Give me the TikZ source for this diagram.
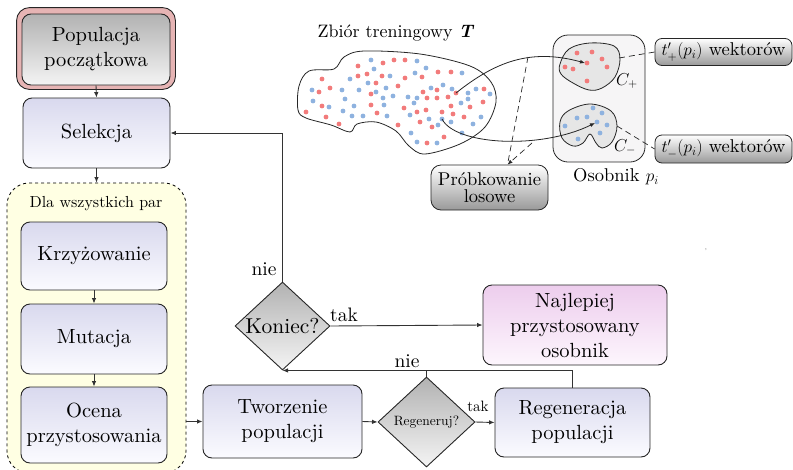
\documentclass[tikz,border=0pt]{standalone}
\usepackage{fontspec}
\setmainfont{lmroman10}[Extension=.otf, UprightFont=*-regular, BoldFont=*-bold,
  ItalicFont=*-italic, BoldItalicFont=*-bolditalic]
\usetikzlibrary{shapes.geometric,arrows.meta,backgrounds,calc}

\definecolor{pinkband}{HTML}{E6B4B4}
\definecolor{lavtop}{HTML}{D9D9EE}
\definecolor{lavbot}{HTML}{FBFBFF}
\definecolor{greytop}{HTML}{B2B2B2}
\definecolor{greybot}{HTML}{F4F4F4}
\definecolor{violtop}{HTML}{EDCDED}
\definecolor{violbot}{HTML}{FDF6FD}
\definecolor{groupfill}{HTML}{FFFFE3}
\definecolor{dotred}{HTML}{F27B7B}
\definecolor{dotblue}{HTML}{8EB2DF}
\definecolor{indfill}{HTML}{F6F5F6}
\definecolor{clusterfill}{HTML}{E6E6E6}
\definecolor{linegrey}{HTML}{333333}

\newcommand{\bigtxt}{\fontsize{20.5}{25}\selectfont}
\newcommand{\midtxt}{\fontsize{18.5}{21}\selectfont}
\newcommand{\smalltxt}{\fontsize{15}{17}\selectfont}

\begin{document}
\begin{tikzpicture}[x=1pt,y=-1pt,
  flow/.style={draw=black!85, line width=0.9pt, rounded corners=9pt,
    align=center, font=\bigtxt, inner sep=0pt},
  lavbox/.style={flow, top color=lavtop, bottom color=lavbot},
  greybox/.style={flow, top color=greytop, bottom color=greybot},
  violbox/.style={flow, top color=violtop, bottom color=violbot},
  decision/.style={shape=diamond, draw=black!85, line width=0.9pt,
    top color=greytop, bottom color=greybot, inner sep=0pt},
  groupbox/.style={draw=black, dashed, line width=0.8pt, fill=groupfill,
    rounded corners=22pt, inner sep=0pt},
  tagbox/.style={draw=black!85, line width=0.8pt, rounded corners=7pt,
    top color=white, bottom color=black!40, align=center, font=\midtxt,
    inner sep=0pt},
  conn/.style={draw=linegrey, line width=0.9pt,
    -{Latex[length=5.5pt,width=4.5pt]}},
  plainconn/.style={draw=linegrey, line width=0.9pt},
  lbl/.style={font=\midtxt, inner sep=0pt},
  outline/.style={draw=black!85, line width=0.8pt},
  guide/.style={draw=black!85, line width=0.7pt, dash pattern=on 6pt off 4pt},
]
\useasboundingbox (0,0) rectangle (793,469);

% ---------------- main loop of the algorithm ----------------
\node[greybox, minimum width=148pt, minimum height=71pt] (pop) at (96,49.5)
  {Populacja\\początkowa};
\begin{scope}[on background layer]
  \draw[draw=black!85, line width=0.9pt, fill=pinkband, rounded corners=13pt]
    ($(pop.south west)+(-5,4)$) rectangle ($(pop.north east)+(5,-6)$);
\end{scope}

\node[lavbox, minimum width=147pt, minimum height=70pt] (sel) at (96.5,133) {Selekcja};

\node[groupbox, minimum width=179pt, minimum height=290pt] (group) at (96.5,328) {};
\node[font=\fontsize{16}{18}\selectfont, inner sep=0pt] (grouptitle) at (96,204)
  {Dla wszystkich par};

\node[lavbox, minimum width=146pt, minimum height=68pt] (krz) at (94,256) {Krzyżowanie};
\node[lavbox, minimum width=146pt, minimum height=70pt] (mut) at (94,339) {Mutacja};
\node[lavbox, minimum width=146pt, minimum height=76pt] (oce) at (94,425)
  {Ocena\\przystosowania};

\node[lavbox, minimum width=159pt, minimum height=73pt] (tw) at (282.5,421.5)
  {Tworzenie\\populacji};

\node[decision, minimum width=97pt, minimum height=90pt] (reg) at (426.5,422)
  {\fontsize{13.5}{15}\selectfont\makebox[0pt]{Regeneruj?}};

\node[lavbox, minimum width=155pt, minimum height=69pt] (regen) at (572.5,422.5)
  {Regeneracja\\populacji};

\node[decision, minimum width=95pt, minimum height=88pt] (kon) at (282.5,326)
  {\fontsize{21.5}{24}\selectfont\makebox[0pt]{Koniec?}};

\node[violbox, minimum width=184pt, minimum height=80pt] (best) at (575,325)
  {Najlepiej\\przystosowany\\osobnik};

% connectors
\draw[conn] (pop.south) -- (sel.north);
\draw[conn] (sel.south) -- (group.north);
\draw[conn] (krz.south) -- (mut.north);
\draw[conn] (mut.south) -- (oce.north);
\draw[conn] (group.east |- tw.west) -- (tw.west);
\draw[conn] (tw.east) -- (reg.west);
\draw[conn] (reg.east) -- (regen.west);
\node[font=\smalltxt, inner sep=0pt] (taklow) at (478,406) {tak};
\draw[conn] (regen.north) |- (kon.south);
\draw[plainconn] (reg.north) -- (reg.north |- kon.south);
\node[font=\fontsize{19.5}{22}\selectfont, inner sep=0pt] (nielow) at (407,361) {nie};
\draw[conn] (kon.east) -- (best.west);
\node[font=\fontsize{19.5}{22}\selectfont, inner sep=0pt] (takup) at (344,315) {tak};
\draw[conn] (kon.north) |- (sel.east);
\node[font=\fontsize{19.5}{22}\selectfont, inner sep=0pt] (nieup) at (264,269) {nie};

% ---------------- training set and sampling ----------------
\node[font=\fontsize{18}{21}\selectfont, inner sep=0pt] (title) at (396,33)
  {Zbiór treningowy \textbf{\textit{T}}};

\draw[outline] plot[smooth cycle, tension=0.55] coordinates {
  (299,86) (309,71) (334,69) (344,57) (364,51) (420,54) (470,66)
  (491,82) (496,102) (485,127) (460,144) (425,154) (409,146)
  (396,131) (376,122) (357,124) (350,132) (331,125) (306,118) (298,110)};

\foreach \px/\py in {
  322/79, 319/92, 330/88, 322/106, 326/117, 306/112, 339/124, 358/66,
  358/76, 367/74, 383/63, 394/60, 405/60, 376/83, 382/76, 405/78,
  371/94, 398/86, 371/105, 404/108, 377/113, 398/125,
  438/72, 451/72, 422/77, 423/92, 437/90, 427/98, 437/98, 448/97,
  456/93, 484/89, 470/107, 483/102, 451/106, 442/112, 426/110, 417/112,
  453/114, 464/117, 420/122, 432/127, 444/137, 427/143}
  \fill[dotred] (\px,\py) circle (2.4pt);
\foreach \px/\py in {
  312/90, 313/101, 329/107, 342/90, 345/99, 343/111, 354/106, 352/116,
  363/116, 350/79, 371/60, 374/69, 368/83, 390/76, 359/90, 376/92,
  386/88, 383/98, 393/96, 408/97, 384/105, 387/116, 410/115, 411/133,
  417/61, 426/68, 462/73, 415/73, 443/85, 431/88, 417/98, 452/89,
  468/93, 476/89, 490/94, 468/99, 481/117, 429/119, 442/119, 438/125,
  451/122, 473/124, 462/133, 417/142, 437/143, 461/103, 414/103}
  \fill[dotblue] (\px,\py) circle (2.4pt);

% individual p_i with its two clusters
\node[draw=black!85, line width=0.8pt, fill=indfill, rounded corners=15pt,
  minimum width=92pt, minimum height=127pt, inner sep=0pt] (ind) at (599,98.5) {};
\node[lbl, anchor=west] (indname) at (573,177) {Osobnik $p_i$};

\draw[outline, fill=clusterfill] plot[smooth cycle, tension=0.6] coordinates {
  (560,64) (569,49) (590,43) (614,46) (620,59) (615,77) (602,88)
  (589,90) (573,83) (561,74)};
\draw[outline, fill=clusterfill] plot[smooth cycle, tension=0.6] coordinates {
  (560,122) (568,111) (590,104) (611,111) (617,126) (612,142) (602,148)
  (596,143) (590,134) (583,143) (573,146) (562,138)};

\foreach \px/\py in {577/53, 592/52, 602/59, 587/63, 573/69, 607/67, 565/67, 587/81}
  \fill[dotred] (\px,\py) circle (2.4pt);
\foreach \px/\py in {593/108, 602/113, 577/118, 587/117, 597/122, 607/125,
  565/126, 600/133, 578/139}
  \fill[dotblue] (\px,\py) circle (2.4pt);

\node[lbl] (cplus) at (627,81) {$C_+$};
\node[lbl] (cminus) at (625,147) {$C_-$};

% sampling arrows from the training set into the clusters
\coordinate (srcup) at (456,93);
\coordinate (srclo) at (442,119);
\coordinate (tgtup) at (585,63);
\coordinate (tgtlo) at (595,123);
\draw[draw=black!85, line width=0.8pt, -{Latex[length=5pt,width=4pt]}]
  (srcup) .. controls (495,62) and (530,48) .. (tgtup);
\draw[draw=black!85, line width=0.8pt, -{Latex[length=5pt,width=4pt]}]
  (srclo) .. controls (455,145) and (540,150) .. (tgtlo);

\node[tagbox, minimum width=117pt, minimum height=45pt, rounded corners=10pt]
  (probk) at (489.5,187.5) {Próbkowanie\\[-4pt]losowe};
\coordinate (dup) at (528,57);
\coordinate (dlo) at (532,143);
\coordinate (ptip) at ($(probk.north)+(18,0)$);
\draw[guide] (dup) -- (ptip);
\draw[guide, -{Latex[length=5pt,width=4pt]}] (dlo) -- (ptip);

% vector counts for each cluster
\node[tagbox, minimum width=137pt, minimum height=27pt] (tplus) at (723.5,52)
  {$t'_+(p_i)$ wektorów};
\node[tagbox, minimum width=137pt, minimum height=28pt] (tminus) at (723.5,149)
  {$t'_-(p_i)$ wektorów};
\coordinate (cplusedge) at (619,58);
\coordinate (cminusedge) at (617,126);
\draw[guide] (cplusedge) -- (tplus.west);
\draw[guide] (cminusedge) -- (tminus.west);

\node[font=\fontsize{6}{6}\selectfont, inner sep=0pt] (tick) at (706,250) {,};
\end{tikzpicture}
\end{document}
